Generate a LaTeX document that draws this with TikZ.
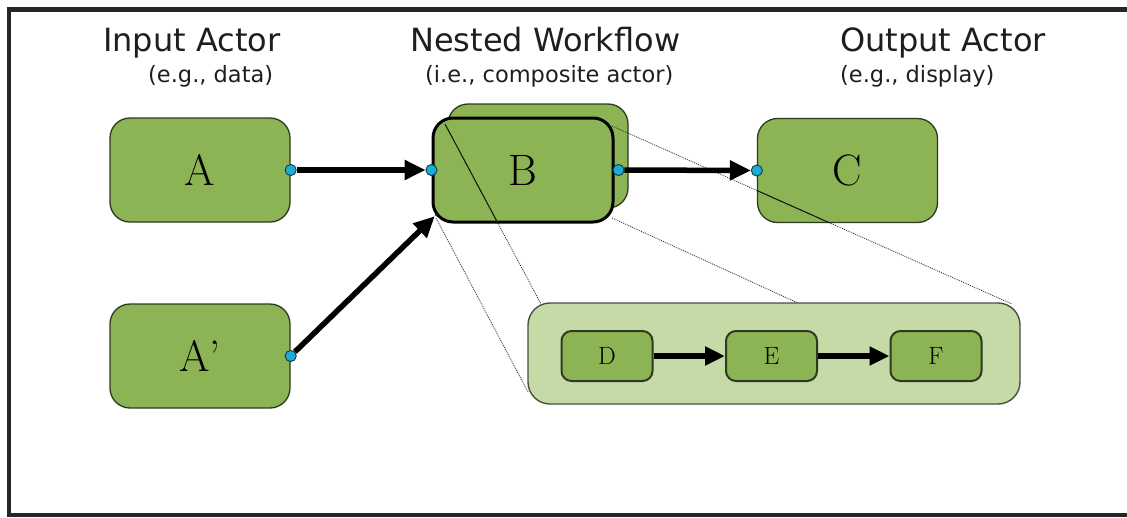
\documentclass[tikz,border=0pt]{standalone}
\usepackage{fontspec}
\newfontfamily\titlefont{DejaVu Sans}
\usetikzlibrary{arrows.meta}
\definecolor{boxgreen}{RGB}{141,180,84}
\definecolor{boxedge}{RGB}{45,58,30}
\definecolor{lightgreen}{RGB}{198,218,168}
\definecolor{lightedge}{RGB}{70,82,60}
\definecolor{portcyan}{RGB}{30,172,212}
\definecolor{portedge}{RGB}{20,60,80}
\definecolor{frameclr}{RGB}{38,38,38}
\definecolor{textclr}{RGB}{30,30,30}
\begin{document}
\begin{tikzpicture}[x=1pt,y=-1pt,
  actor/.style={draw=boxedge, line width=1.3pt, fill=boxgreen, rounded corners=20pt,
    inner sep=0pt, minimum width=180pt, minimum height=104pt,
    font=\fontsize{44}{44}\selectfont},
  small/.style={draw=boxedge, line width=2pt, fill=boxgreen, rounded corners=10pt,
    inner sep=0pt, minimum width=91pt, minimum height=50pt,
    font=\fontsize{25}{25}\selectfont},
  container/.style={draw=lightedge, line width=1.4pt, fill=lightgreen, rounded corners=22pt,
    inner sep=0pt, minimum width=492pt, minimum height=101pt},
  port/.style={circle, draw=portedge, fill=portcyan, minimum size=11pt, inner sep=0pt, line width=0.8pt},
  tinyport/.style={circle, fill=portedge, minimum size=3pt, inner sep=0pt},
  flow/.style={line width=5.5pt, -{Triangle[length=21pt,width=19pt]}},
  smallflow/.style={line width=5.5pt, -{Triangle[length=20pt,width=18pt]}},
  zoomline/.style={line width=0.8pt, dash pattern=on 1pt off 1pt, black!80},
  zoomsolid/.style={line width=1pt, black!90},
  title/.style={anchor=base west, inner sep=0pt, text=textclr, font=\titlefont\fontsize{32}{32}\selectfont},
  subtitle/.style={anchor=base west, inner sep=0pt, text=textclr, font=\titlefont\fontsize{22.5}{22.5}\selectfont}]
\useasboundingbox (0,0) rectangle (1127,517);
% frame
\draw[frameclr, line width=4.5pt] (1127,9.5) -- (9,9.5) -- (9,515) -- (1127,515);
% titles
\node[title] (tin) at (103,51) {Input Actor};
\node[subtitle] (sin) at (148,82) {(e.g., data)};
\node[title] (tnest) at (410,51) {Nested Workflow};
\node[subtitle] (snest) at (425,82) {(i.e., composite actor)};
\node[title] (tout) at (840,51) {Output Actor};
\node[subtitle] (sout) at (840,82) {(e.g., display)};
% actors
\node[actor] (A) at (200,170) {A};
\node[actor] (A2) at (200,356) {A’};
\node[actor] (Bback) at (538,156) {};
\node[actor, draw=black, line width=3pt] (B) at (523,170) {B};
\node[actor] (C) at (847.5,170.5) {C};
% zoom lines
\coordinate (z1a) at (445,124);
\coordinate (z1b) at (541,304);
\coordinate (z2a) at (436,218);
\coordinate (z2b) at (528,392);
\coordinate (z3a) at (612,126);
\coordinate (z3b) at (1012,304);
\coordinate (z4a) at (612,218);
\coordinate (z4b) at (1010,400);
\draw[zoomline] (z1a) -- (z1b);
\draw[zoomline] (z2a) -- (z2b);
\draw[zoomline] (z3a) -- (z3b);
\draw[zoomline] (z4a) -- (z4b);
\begin{scope}
  \clip[rounded corners=20pt] (B.south west) rectangle (B.north east);
  \draw[zoomsolid] (z1a) -- (z1b);
\end{scope}
\begin{scope}
  \clip[rounded corners=20pt] (C.south west) rectangle (C.north east);
  \draw[zoomsolid] (z3a) -- (z3b);
\end{scope}
% ports
\node[port] (pA) at (A.east) {};
\node[port] (pA2) at (A2.east) {};
\node[port] (pBin) at (B.west) {};
\node[port] (pBout) at ([xshift=4pt]B.east) {};
\node[port] (pC) at (C.west) {};
\node[tinyport] (pBin2) at (436,215) {};
% arrows
\draw[flow] (pA) -- (pBin);
\draw[flow] (pA2) -- (pBin2);
\draw[flow] (pBout) -- (pC);
% redraw ports on top
\node[port] at (A.east) {};
\node[port] at (A2.east) {};
\node[port] at (B.west) {};
\node[port] at ([xshift=4pt]B.east) {};
\node[port] at (C.west) {};
% nested workflow
\node[container] (W) at (774,353.5) {};
\node[small] (D) at (607,356) {D};
\node[small] (E) at (771.5,356) {E};
\node[small] (F) at (936,356) {F};
\draw[smallflow] (D) -- (E);
\draw[smallflow] (E) -- (F);
\end{tikzpicture}
\end{document}
